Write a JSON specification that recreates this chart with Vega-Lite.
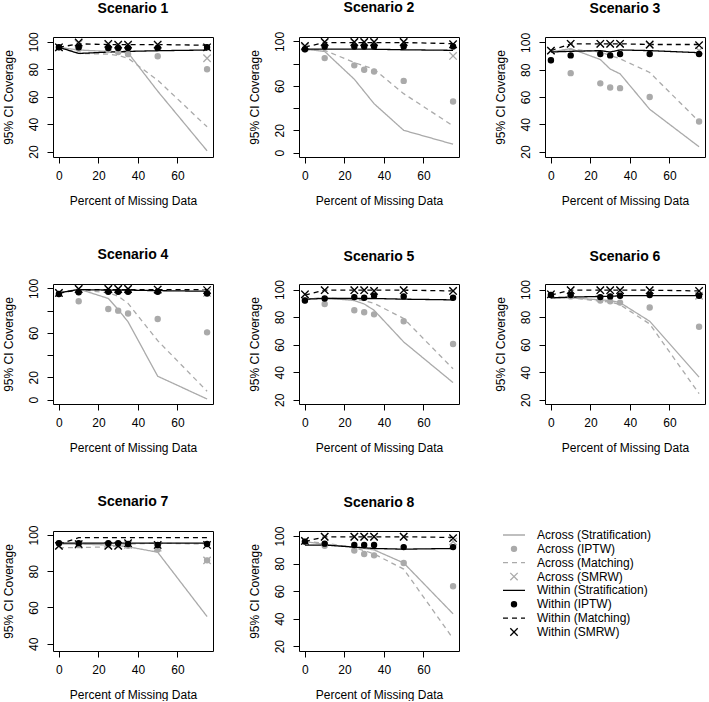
{
  "$schema": "https://vega.github.io/schema/vega-lite/v6.json",
  "padding": {"top": 0, "left": 1, "right": 0, "bottom": 0},
  "columns": 3,
  "spacing": {"column": 33, "row": 40},
  "datasets": {
    "cov": [
      {"s":1,"x":0,"AS":96,"AI":96,"AM":96,"AW":96,"WS":96,"WI":96,"WM":96,"WW":96},
      {"s":1,"x":10,"AS":94,"AI":95,"AM":91.5,"AW":98.5,"WS":91.5,"WI":96,"WM":98.5,"WW":99.5},
      {"s":1,"x":25,"AS":93,"AI":94,"AM":91,"AW":98,"WS":92.5,"WI":95.5,"WM":98,"WW":98.5},
      {"s":1,"x":30,"AS":92.5,"AI":92.5,"AM":90,"AW":97.5,"WS":92.8,"WI":95.5,"WM":98,"WW":98},
      {"s":1,"x":35,"AS":92,"AI":91,"AM":88,"AW":97.5,"WS":93,"WI":95.5,"WM":98,"WW":98},
      {"s":1,"x":50,"AS":64,"AI":89.5,"AM":72,"AW":97.5,"WS":93.5,"WI":95.5,"WM":98,"WW":98},
      {"s":1,"x":75,"AS":20.5,"AI":80,"AM":38,"AW":88,"WS":94,"WI":96,"WM":97.5,"WW":96},
      {"s":2,"x":0,"AS":93,"AI":93,"AM":93,"AW":95,"WS":93,"WI":93,"WM":95,"WW":96},
      {"s":2,"x":10,"AS":91,"AI":85,"AM":92,"AW":99,"WS":93,"WI":95.5,"WM":99,"WW":99.5},
      {"s":2,"x":25,"AS":66,"AI":78.5,"AM":81,"AW":99,"WS":93,"WI":95.5,"WM":99,"WW":99.5},
      {"s":2,"x":30,"AS":55,"AI":74.5,"AM":78,"AW":99,"WS":93,"WI":95.5,"WM":99,"WW":99.5},
      {"s":2,"x":35,"AS":44,"AI":73,"AM":75,"AW":99,"WS":93,"WI":95.5,"WM":99,"WW":99.5},
      {"s":2,"x":50,"AS":20,"AI":64.5,"AM":53,"AW":99,"WS":92.5,"WI":95.5,"WM":99,"WW":99.5},
      {"s":2,"x":75,"AS":7.5,"AI":46,"AM":24,"AW":87,"WS":92,"WI":95.5,"WM":98,"WW":97.5},
      {"s":3,"x":0,"AS":93,"AI":87,"AM":93,"AW":94,"WS":93,"WI":87,"WM":94,"WW":94},
      {"s":3,"x":10,"AS":95.5,"AI":77.5,"AM":95,"AW":99,"WS":93.5,"WI":90.5,"WM":99,"WW":99},
      {"s":3,"x":25,"AS":87.5,"AI":70,"AM":93,"AW":99,"WS":94,"WI":91.5,"WM":99,"WW":99},
      {"s":3,"x":30,"AS":80.5,"AI":67,"AM":90.5,"AW":99,"WS":93,"WI":90.5,"WM":99,"WW":99},
      {"s":3,"x":35,"AS":77,"AI":66.5,"AM":88,"AW":99,"WS":94.5,"WI":91.5,"WM":99,"WW":99},
      {"s":3,"x":50,"AS":51,"AI":60,"AM":78,"AW":98,"WS":94,"WI":91.5,"WM":98.5,"WW":98.5},
      {"s":3,"x":75,"AS":23.5,"AI":42,"AM":42,"AW":94,"WS":92.5,"WI":91.5,"WM":98.5,"WW":98},
      {"s":4,"x":0,"AS":96,"AI":95,"AM":96,"AW":96,"WS":96,"WI":95,"WM":95.5,"WW":96},
      {"s":4,"x":10,"AS":99.5,"AI":88.5,"AM":99,"AW":99.5,"WS":99,"WI":96.5,"WM":99,"WW":99.5},
      {"s":4,"x":25,"AS":91,"AI":81.5,"AM":96,"AW":99.5,"WS":98.5,"WI":97,"WM":99,"WW":99.5},
      {"s":4,"x":30,"AS":81,"AI":80,"AM":93,"AW":99.5,"WS":98.5,"WI":97,"WM":99,"WW":99.5},
      {"s":4,"x":35,"AS":70,"AI":77.5,"AM":86.5,"AW":99.5,"WS":98.5,"WI":97,"WM":99,"WW":99.5},
      {"s":4,"x":50,"AS":21,"AI":72.5,"AM":53,"AW":99,"WS":98,"WI":97,"WM":99,"WW":99},
      {"s":4,"x":75,"AS":0.5,"AI":60.5,"AM":7.5,"AW":96,"WS":97.5,"WI":95.5,"WM":99,"WW":98.5},
      {"s":5,"x":0,"AS":93,"AI":92,"AM":93,"AW":96.5,"WS":93,"WI":92,"WM":96,"WW":96.5},
      {"s":5,"x":10,"AS":94,"AI":89.5,"AM":94,"AW":99.5,"WS":93.5,"WI":93.5,"WM":99.5,"WW":99.5},
      {"s":5,"x":25,"AS":92,"AI":85,"AM":93,"AW":99.5,"WS":93.5,"WI":94.5,"WM":99.5,"WW":99.5},
      {"s":5,"x":30,"AS":89.5,"AI":83.5,"AM":92,"AW":99.5,"WS":93.5,"WI":94,"WM":99.5,"WW":99.5},
      {"s":5,"x":35,"AS":85,"AI":82,"AM":90,"AW":99,"WS":93.5,"WI":95.5,"WM":99.5,"WW":99},
      {"s":5,"x":50,"AS":62,"AI":77,"AM":79,"AW":99.5,"WS":93,"WI":95,"WM":99.5,"WW":99.5},
      {"s":5,"x":75,"AS":32.5,"AI":60.5,"AM":42.5,"AW":99,"WS":92.5,"WI":94,"WM":99,"WW":99},
      {"s":6,"x":0,"AS":94,"AI":96,"AM":94,"AW":96.5,"WS":94,"WI":96,"WM":96,"WW":96.5},
      {"s":6,"x":10,"AS":94,"AI":95,"AM":94,"AW":99.5,"WS":94.5,"WI":96,"WM":99.5,"WW":99.5},
      {"s":6,"x":25,"AS":92.5,"AI":92,"AM":91.5,"AW":99.5,"WS":95,"WI":94.5,"WM":99.5,"WW":99.5},
      {"s":6,"x":30,"AS":92,"AI":91.5,"AM":91,"AW":99.5,"WS":95,"WI":95,"WM":99.5,"WW":99.5},
      {"s":6,"x":35,"AS":90.5,"AI":90.5,"AM":89,"AW":99.5,"WS":95.5,"WI":95.5,"WM":99.5,"WW":99.5},
      {"s":6,"x":50,"AS":77,"AI":87,"AM":75,"AW":99.5,"WS":95.5,"WI":96,"WM":99.5,"WW":99.5},
      {"s":6,"x":75,"AS":36.5,"AI":73,"AM":24.5,"AW":95.5,"WS":95.5,"WI":95.5,"WM":99,"WW":99},
      {"s":7,"x":0,"AS":95,"AI":95.5,"AM":93,"AW":94,"WS":95.5,"WI":95.5,"WM":95,"WW":94},
      {"s":7,"x":10,"AS":95,"AI":95,"AM":93,"AW":94.5,"WS":95.5,"WI":95.5,"WM":98.5,"WW":95},
      {"s":7,"x":25,"AS":94.5,"AI":94.5,"AM":93.5,"AW":94,"WS":95.5,"WI":95.5,"WM":98.5,"WW":94},
      {"s":7,"x":30,"AS":94,"AI":94.5,"AM":94,"AW":94,"WS":95.5,"WI":95.5,"WM":98.5,"WW":94},
      {"s":7,"x":35,"AS":93.5,"AI":94,"AM":95,"AW":94.5,"WS":95.5,"WI":95,"WM":98.5,"WW":95.5},
      {"s":7,"x":50,"AS":90.5,"AI":92,"AM":95.5,"AW":93,"WS":95.5,"WI":94.5,"WM":98.5,"WW":94.5},
      {"s":7,"x":75,"AS":55,"AI":86,"AM":95,"AW":86,"WS":95.5,"WI":95,"WM":98.5,"WW":94.5},
      {"s":8,"x":0,"AS":96,"AI":96,"AM":96,"AW":96.5,"WS":93.5,"WI":96,"WM":96,"WW":96.5},
      {"s":8,"x":10,"AS":94,"AI":93,"AM":95,"AW":99.5,"WS":93.5,"WI":94.5,"WM":99.5,"WW":99.5},
      {"s":8,"x":25,"AS":92,"AI":89.5,"AM":91.5,"AW":99.5,"WS":92,"WI":93.5,"WM":99.5,"WW":99.5},
      {"s":8,"x":30,"AS":91,"AI":87,"AM":89.5,"AW":99.5,"WS":91.5,"WI":93.5,"WM":99.5,"WW":99.5},
      {"s":8,"x":35,"AS":90,"AI":86,"AM":87,"AW":99.5,"WS":91,"WI":93.5,"WM":99.5,"WW":99.5},
      {"s":8,"x":50,"AS":80.5,"AI":80.5,"AM":76,"AW":99.5,"WS":90.5,"WI":92,"WM":99.5,"WW":99.5},
      {"s":8,"x":75,"AS":43.5,"AI":63.5,"AM":25.5,"AW":96,"WS":91,"WI":92,"WM":99,"WW":98.5}
    ],
    "legend": [
      {"series":"AS","label":"Across (Stratification)","i":1},
      {"series":"AI","label":"Across (IPTW)","i":2},
      {"series":"AM","label":"Across (Matching)","i":3},
      {"series":"AW","label":"Across (SMRW)","i":4},
      {"series":"WS","label":"Within (Stratification)","i":5},
      {"series":"WI","label":"Within (IPTW)","i":6},
      {"series":"WM","label":"Within (Matching)","i":7},
      {"series":"WW","label":"Within (SMRW)","i":8}
    ]
  },
  "concat": [
    {"title": "Scenario 1", "width": 160, "height": 120, "data": {"name": "cov"},
     "transform": [{"filter": "datum.s == 1"}, {"fold": ["AS","AI","AM","AW","WS","WI","WM","WW"], "as": ["series","y"]}],
     "encoding": {
       "x": {"field": "x", "type": "quantitative", "scale": {"domain": [-3,78], "nice": false, "zero": false}, "axis": {"values": [0,20,40,60], "title": "Percent of Missing Data"}},
       "y": {"field": "y", "type": "quantitative", "scale": {"domain": [16,103.5], "nice": false, "zero": false}, "axis": {"values": [20,40,60,80,100], "title": "95% CI Coverage"}},
       "color": {"field": "series", "type": "nominal", "scale": {"domain": ["AS","AI","AM","AW","WS","WI","WM","WW"], "range": ["#aaaaaa","#aaaaaa","#aaaaaa","#aaaaaa","#000000","#000000","#000000","#000000"]}, "legend": null}
     },
     "layer": [
       {"transform": [{"filter": {"field": "series", "oneOf": ["AS","AM","WS","WM"]}}], "mark": {"type": "line", "strokeWidth": 1.3}, "encoding": {"strokeDash": {"field": "series", "type": "nominal", "scale": {"domain": ["AS","AM","WS","WM"], "range": [[1,0],[5,4],[1,0],[5,4]]}, "legend": null}}},
       {"transform": [{"filter": {"field": "series", "oneOf": ["AI","AW","WI","WW"]}}], "mark": {"type": "point", "filled": true, "size": 26, "strokeWidth": 1.3, "opacity": 1}, "encoding": {"shape": {"field": "series", "type": "nominal", "scale": {"domain": ["AI","AW","WI","WW"], "range": ["circle","M-1.45,-1.45L1.45,1.45M-1.45,1.45L1.45,-1.45","circle","M-1.45,-1.45L1.45,1.45M-1.45,1.45L1.45,-1.45"]}, "legend": null}, "stroke": {"field": "series", "type": "nominal", "scale": {"domain": ["AS","AI","AM","AW","WS","WI","WM","WW"], "range": ["#aaaaaa","#aaaaaa","#aaaaaa","#aaaaaa","#000000","#000000","#000000","#000000"]}, "legend": null}}}
     ]},
    {"title": "Scenario 2", "width": 160, "height": 120, "data": {"name": "cov"},
     "transform": [{"filter": "datum.s == 2"}, {"fold": ["AS","AI","AM","AW","WS","WI","WM","WW"], "as": ["series","y"]}],
     "encoding": {
       "x": {"field": "x", "type": "quantitative", "scale": {"domain": [-3,78], "nice": false, "zero": false}, "axis": {"values": [0,20,40,60], "title": "Percent of Missing Data"}},
       "y": {"field": "y", "type": "quantitative", "scale": {"domain": [-4,104], "nice": false, "zero": false}, "axis": {"values": [0,20,40,60,80,100], "labelExpr": "datum.value == 40 || datum.value == 80 ? '' : datum.label", "title": "95% CI Coverage"}},
       "color": {"field": "series", "type": "nominal", "scale": {"domain": ["AS","AI","AM","AW","WS","WI","WM","WW"], "range": ["#aaaaaa","#aaaaaa","#aaaaaa","#aaaaaa","#000000","#000000","#000000","#000000"]}, "legend": null}
     },
     "layer": [
       {"transform": [{"filter": {"field": "series", "oneOf": ["AS","AM","WS","WM"]}}], "mark": {"type": "line", "strokeWidth": 1.3}, "encoding": {"strokeDash": {"field": "series", "type": "nominal", "scale": {"domain": ["AS","AM","WS","WM"], "range": [[1,0],[5,4],[1,0],[5,4]]}, "legend": null}}},
       {"transform": [{"filter": {"field": "series", "oneOf": ["AI","AW","WI","WW"]}}], "mark": {"type": "point", "filled": true, "size": 26, "strokeWidth": 1.3, "opacity": 1}, "encoding": {"shape": {"field": "series", "type": "nominal", "scale": {"domain": ["AI","AW","WI","WW"], "range": ["circle","M-1.45,-1.45L1.45,1.45M-1.45,1.45L1.45,-1.45","circle","M-1.45,-1.45L1.45,1.45M-1.45,1.45L1.45,-1.45"]}, "legend": null}, "stroke": {"field": "series", "type": "nominal", "scale": {"domain": ["AS","AI","AM","AW","WS","WI","WM","WW"], "range": ["#aaaaaa","#aaaaaa","#aaaaaa","#aaaaaa","#000000","#000000","#000000","#000000"]}, "legend": null}}}
     ]},
    {"title": "Scenario 3", "width": 160, "height": 120, "data": {"name": "cov"},
     "transform": [{"filter": "datum.s == 3"}, {"fold": ["AS","AI","AM","AW","WS","WI","WM","WW"], "as": ["series","y"]}],
     "encoding": {
       "x": {"field": "x", "type": "quantitative", "scale": {"domain": [-3,78], "nice": false, "zero": false}, "axis": {"values": [0,20,40,60], "title": "Percent of Missing Data"}},
       "y": {"field": "y", "type": "quantitative", "scale": {"domain": [16,104], "nice": false, "zero": false}, "axis": {"values": [20,40,60,80,100], "title": "95% CI Coverage"}},
       "color": {"field": "series", "type": "nominal", "scale": {"domain": ["AS","AI","AM","AW","WS","WI","WM","WW"], "range": ["#aaaaaa","#aaaaaa","#aaaaaa","#aaaaaa","#000000","#000000","#000000","#000000"]}, "legend": null}
     },
     "layer": [
       {"transform": [{"filter": {"field": "series", "oneOf": ["AS","AM","WS","WM"]}}], "mark": {"type": "line", "strokeWidth": 1.3}, "encoding": {"strokeDash": {"field": "series", "type": "nominal", "scale": {"domain": ["AS","AM","WS","WM"], "range": [[1,0],[5,4],[1,0],[5,4]]}, "legend": null}}},
       {"transform": [{"filter": {"field": "series", "oneOf": ["AI","AW","WI","WW"]}}], "mark": {"type": "point", "filled": true, "size": 26, "strokeWidth": 1.3, "opacity": 1}, "encoding": {"shape": {"field": "series", "type": "nominal", "scale": {"domain": ["AI","AW","WI","WW"], "range": ["circle","M-1.45,-1.45L1.45,1.45M-1.45,1.45L1.45,-1.45","circle","M-1.45,-1.45L1.45,1.45M-1.45,1.45L1.45,-1.45"]}, "legend": null}, "stroke": {"field": "series", "type": "nominal", "scale": {"domain": ["AS","AI","AM","AW","WS","WI","WM","WW"], "range": ["#aaaaaa","#aaaaaa","#aaaaaa","#aaaaaa","#000000","#000000","#000000","#000000"]}, "legend": null}}}
     ]},
    {"title": "Scenario 4", "width": 160, "height": 120, "data": {"name": "cov"},
     "transform": [{"filter": "datum.s == 4"}, {"fold": ["AS","AI","AM","AW","WS","WI","WM","WW"], "as": ["series","y"]}],
     "encoding": {
       "x": {"field": "x", "type": "quantitative", "scale": {"domain": [-3,78], "nice": false, "zero": false}, "axis": {"values": [0,20,40,60], "title": "Percent of Missing Data"}},
       "y": {"field": "y", "type": "quantitative", "scale": {"domain": [-4,104], "nice": false, "zero": false}, "axis": {"values": [0,20,40,60,80,100], "labelExpr": "datum.value == 40 || datum.value == 80 ? '' : datum.label", "title": "95% CI Coverage"}},
       "color": {"field": "series", "type": "nominal", "scale": {"domain": ["AS","AI","AM","AW","WS","WI","WM","WW"], "range": ["#aaaaaa","#aaaaaa","#aaaaaa","#aaaaaa","#000000","#000000","#000000","#000000"]}, "legend": null}
     },
     "layer": [
       {"transform": [{"filter": {"field": "series", "oneOf": ["AS","AM","WS","WM"]}}], "mark": {"type": "line", "strokeWidth": 1.3}, "encoding": {"strokeDash": {"field": "series", "type": "nominal", "scale": {"domain": ["AS","AM","WS","WM"], "range": [[1,0],[5,4],[1,0],[5,4]]}, "legend": null}}},
       {"transform": [{"filter": {"field": "series", "oneOf": ["AI","AW","WI","WW"]}}], "mark": {"type": "point", "filled": true, "size": 26, "strokeWidth": 1.3, "opacity": 1}, "encoding": {"shape": {"field": "series", "type": "nominal", "scale": {"domain": ["AI","AW","WI","WW"], "range": ["circle","M-1.45,-1.45L1.45,1.45M-1.45,1.45L1.45,-1.45","circle","M-1.45,-1.45L1.45,1.45M-1.45,1.45L1.45,-1.45"]}, "legend": null}, "stroke": {"field": "series", "type": "nominal", "scale": {"domain": ["AS","AI","AM","AW","WS","WI","WM","WW"], "range": ["#aaaaaa","#aaaaaa","#aaaaaa","#aaaaaa","#000000","#000000","#000000","#000000"]}, "legend": null}}}
     ]},
    {"title": "Scenario 5", "width": 160, "height": 120, "data": {"name": "cov"},
     "transform": [{"filter": "datum.s == 5"}, {"fold": ["AS","AI","AM","AW","WS","WI","WM","WW"], "as": ["series","y"]}],
     "encoding": {
       "x": {"field": "x", "type": "quantitative", "scale": {"domain": [-3,78], "nice": false, "zero": false}, "axis": {"values": [0,20,40,60], "title": "Percent of Missing Data"}},
       "y": {"field": "y", "type": "quantitative", "scale": {"domain": [17,104], "nice": false, "zero": false}, "axis": {"values": [20,40,60,80,100], "title": "95% CI Coverage"}},
       "color": {"field": "series", "type": "nominal", "scale": {"domain": ["AS","AI","AM","AW","WS","WI","WM","WW"], "range": ["#aaaaaa","#aaaaaa","#aaaaaa","#aaaaaa","#000000","#000000","#000000","#000000"]}, "legend": null}
     },
     "layer": [
       {"transform": [{"filter": {"field": "series", "oneOf": ["AS","AM","WS","WM"]}}], "mark": {"type": "line", "strokeWidth": 1.3}, "encoding": {"strokeDash": {"field": "series", "type": "nominal", "scale": {"domain": ["AS","AM","WS","WM"], "range": [[1,0],[5,4],[1,0],[5,4]]}, "legend": null}}},
       {"transform": [{"filter": {"field": "series", "oneOf": ["AI","AW","WI","WW"]}}], "mark": {"type": "point", "filled": true, "size": 26, "strokeWidth": 1.3, "opacity": 1}, "encoding": {"shape": {"field": "series", "type": "nominal", "scale": {"domain": ["AI","AW","WI","WW"], "range": ["circle","M-1.45,-1.45L1.45,1.45M-1.45,1.45L1.45,-1.45","circle","M-1.45,-1.45L1.45,1.45M-1.45,1.45L1.45,-1.45"]}, "legend": null}, "stroke": {"field": "series", "type": "nominal", "scale": {"domain": ["AS","AI","AM","AW","WS","WI","WM","WW"], "range": ["#aaaaaa","#aaaaaa","#aaaaaa","#aaaaaa","#000000","#000000","#000000","#000000"]}, "legend": null}}}
     ]},
    {"title": "Scenario 6", "width": 160, "height": 120, "data": {"name": "cov"},
     "transform": [{"filter": "datum.s == 6"}, {"fold": ["AS","AI","AM","AW","WS","WI","WM","WW"], "as": ["series","y"]}],
     "encoding": {
       "x": {"field": "x", "type": "quantitative", "scale": {"domain": [-3,78], "nice": false, "zero": false}, "axis": {"values": [0,20,40,60], "title": "Percent of Missing Data"}},
       "y": {"field": "y", "type": "quantitative", "scale": {"domain": [17,104], "nice": false, "zero": false}, "axis": {"values": [20,40,60,80,100], "title": "95% CI Coverage"}},
       "color": {"field": "series", "type": "nominal", "scale": {"domain": ["AS","AI","AM","AW","WS","WI","WM","WW"], "range": ["#aaaaaa","#aaaaaa","#aaaaaa","#aaaaaa","#000000","#000000","#000000","#000000"]}, "legend": null}
     },
     "layer": [
       {"transform": [{"filter": {"field": "series", "oneOf": ["AS","AM","WS","WM"]}}], "mark": {"type": "line", "strokeWidth": 1.3}, "encoding": {"strokeDash": {"field": "series", "type": "nominal", "scale": {"domain": ["AS","AM","WS","WM"], "range": [[1,0],[5,4],[1,0],[5,4]]}, "legend": null}}},
       {"transform": [{"filter": {"field": "series", "oneOf": ["AI","AW","WI","WW"]}}], "mark": {"type": "point", "filled": true, "size": 26, "strokeWidth": 1.3, "opacity": 1}, "encoding": {"shape": {"field": "series", "type": "nominal", "scale": {"domain": ["AI","AW","WI","WW"], "range": ["circle","M-1.45,-1.45L1.45,1.45M-1.45,1.45L1.45,-1.45","circle","M-1.45,-1.45L1.45,1.45M-1.45,1.45L1.45,-1.45"]}, "legend": null}, "stroke": {"field": "series", "type": "nominal", "scale": {"domain": ["AS","AI","AM","AW","WS","WI","WM","WW"], "range": ["#aaaaaa","#aaaaaa","#aaaaaa","#aaaaaa","#000000","#000000","#000000","#000000"]}, "legend": null}}}
     ]},
    {"title": "Scenario 7", "width": 160, "height": 120, "data": {"name": "cov"},
     "transform": [{"filter": "datum.s == 7"}, {"fold": ["AS","AI","AM","AW","WS","WI","WM","WW"], "as": ["series","y"]}],
     "encoding": {
       "x": {"field": "x", "type": "quantitative", "scale": {"domain": [-3,78], "nice": false, "zero": false}, "axis": {"values": [0,20,40,60], "title": "Percent of Missing Data"}},
       "y": {"field": "y", "type": "quantitative", "scale": {"domain": [36,102.2], "nice": false, "zero": false}, "axis": {"values": [40,60,80,100], "title": "95% CI Coverage"}},
       "color": {"field": "series", "type": "nominal", "scale": {"domain": ["AS","AI","AM","AW","WS","WI","WM","WW"], "range": ["#aaaaaa","#aaaaaa","#aaaaaa","#aaaaaa","#000000","#000000","#000000","#000000"]}, "legend": null}
     },
     "layer": [
       {"transform": [{"filter": {"field": "series", "oneOf": ["AS","AM","WS","WM"]}}], "mark": {"type": "line", "strokeWidth": 1.3}, "encoding": {"strokeDash": {"field": "series", "type": "nominal", "scale": {"domain": ["AS","AM","WS","WM"], "range": [[1,0],[5,4],[1,0],[5,4]]}, "legend": null}}},
       {"transform": [{"filter": {"field": "series", "oneOf": ["AI","AW","WI","WW"]}}], "mark": {"type": "point", "filled": true, "size": 26, "strokeWidth": 1.3, "opacity": 1}, "encoding": {"shape": {"field": "series", "type": "nominal", "scale": {"domain": ["AI","AW","WI","WW"], "range": ["circle","M-1.45,-1.45L1.45,1.45M-1.45,1.45L1.45,-1.45","circle","M-1.45,-1.45L1.45,1.45M-1.45,1.45L1.45,-1.45"]}, "legend": null}, "stroke": {"field": "series", "type": "nominal", "scale": {"domain": ["AS","AI","AM","AW","WS","WI","WM","WW"], "range": ["#aaaaaa","#aaaaaa","#aaaaaa","#aaaaaa","#000000","#000000","#000000","#000000"]}, "legend": null}}}
     ]},
    {"title": "Scenario 8", "width": 160, "height": 120, "data": {"name": "cov"},
     "transform": [{"filter": "datum.s == 8"}, {"fold": ["AS","AI","AM","AW","WS","WI","WM","WW"], "as": ["series","y"]}],
     "encoding": {
       "x": {"field": "x", "type": "quantitative", "scale": {"domain": [-3,78], "nice": false, "zero": false}, "axis": {"values": [0,20,40,60], "title": "Percent of Missing Data"}},
       "y": {"field": "y", "type": "quantitative", "scale": {"domain": [16.5,103.7], "nice": false, "zero": false}, "axis": {"values": [20,40,60,80,100], "title": "95% CI Coverage"}},
       "color": {"field": "series", "type": "nominal", "scale": {"domain": ["AS","AI","AM","AW","WS","WI","WM","WW"], "range": ["#aaaaaa","#aaaaaa","#aaaaaa","#aaaaaa","#000000","#000000","#000000","#000000"]}, "legend": null}
     },
     "layer": [
       {"transform": [{"filter": {"field": "series", "oneOf": ["AS","AM","WS","WM"]}}], "mark": {"type": "line", "strokeWidth": 1.3}, "encoding": {"strokeDash": {"field": "series", "type": "nominal", "scale": {"domain": ["AS","AM","WS","WM"], "range": [[1,0],[5,4],[1,0],[5,4]]}, "legend": null}}},
       {"transform": [{"filter": {"field": "series", "oneOf": ["AI","AW","WI","WW"]}}], "mark": {"type": "point", "filled": true, "size": 26, "strokeWidth": 1.3, "opacity": 1}, "encoding": {"shape": {"field": "series", "type": "nominal", "scale": {"domain": ["AI","AW","WI","WW"], "range": ["circle","M-1.45,-1.45L1.45,1.45M-1.45,1.45L1.45,-1.45","circle","M-1.45,-1.45L1.45,1.45M-1.45,1.45L1.45,-1.45"]}, "legend": null}, "stroke": {"field": "series", "type": "nominal", "scale": {"domain": ["AS","AI","AM","AW","WS","WI","WM","WW"], "range": ["#aaaaaa","#aaaaaa","#aaaaaa","#aaaaaa","#000000","#000000","#000000","#000000"]}, "legend": null}}}
     ]},
    {"width": 200, "height": 100, "view": {"stroke": null}, "data": {"name": "legend"},
     "encoding": {
       "y": {"field": "i", "type": "quantitative", "scale": {"domain": [0.711, 7.928], "reverse": true, "nice": false, "zero": false}, "axis": null}
     },
     "layer": [
       {"transform": [{"filter": {"field": "series", "oneOf": ["AS","AM","WS","WM"]}}], "mark": {"type": "rule", "strokeWidth": 1.3},
        "encoding": {
          "x": {"datum": -42, "type": "quantitative", "scale": {"domain": [0,200], "nice": false, "zero": false}, "axis": null},
          "x2": {"datum": -20},
          "color": {"field": "series", "type": "nominal", "scale": {"domain": ["AS","AI","AM","AW","WS","WI","WM","WW"], "range": ["#aaaaaa","#aaaaaa","#aaaaaa","#aaaaaa","#000000","#000000","#000000","#000000"]}, "legend": null},
          "strokeDash": {"field": "series", "type": "nominal", "scale": {"domain": ["AS","AM","WS","WM"], "range": [[1,0],[5,4],[1,0],[5,4]]}, "legend": null}
        }},
       {"transform": [{"filter": {"field": "series", "oneOf": ["AI","AW","WI","WW"]}}], "mark": {"type": "point", "filled": true, "size": 26, "strokeWidth": 1.3, "opacity": 1},
        "encoding": {
          "x": {"datum": -31, "type": "quantitative"},
          "color": {"field": "series", "type": "nominal", "scale": {"domain": ["AS","AI","AM","AW","WS","WI","WM","WW"], "range": ["#aaaaaa","#aaaaaa","#aaaaaa","#aaaaaa","#000000","#000000","#000000","#000000"]}, "legend": null},
          "stroke": {"field": "series", "type": "nominal", "scale": {"domain": ["AS","AI","AM","AW","WS","WI","WM","WW"], "range": ["#aaaaaa","#aaaaaa","#aaaaaa","#aaaaaa","#000000","#000000","#000000","#000000"]}, "legend": null},
          "shape": {"field": "series", "type": "nominal", "scale": {"domain": ["AI","AW","WI","WW"], "range": ["circle","M-1.45,-1.45L1.45,1.45M-1.45,1.45L1.45,-1.45","circle","M-1.45,-1.45L1.45,1.45M-1.45,1.45L1.45,-1.45"]}, "legend": null}
        }},
       {"mark": {"type": "text", "align": "left", "baseline": "middle", "fontSize": 12, "font": "Liberation Sans", "color": "black"},
        "encoding": {
          "x": {"datum": -8, "type": "quantitative"},
          "text": {"field": "label"}
        }}
     ]}
  ],
  "config": {
    "font": "Liberation Sans",
    "view": {"stroke": "black", "strokeWidth": 1},
    "axis": {"domain": false, "grid": false, "ticks": true, "tickColor": "black", "tickSize": 6, "tickWidth": 1, "labelFontSize": 12, "labelColor": "black", "labelFont": "Liberation Sans", "titleFont": "Liberation Sans", "titleFontSize": 12, "titleFontWeight": "normal", "titleColor": "black", "labelOverlap": false, "labelFlush": false},
    "axisX": {"labelPadding": 7, "titlePadding": 14, "labelAngle": 0},
    "axisY": {"labelAngle": -90, "labelAlign": "center", "labelBaseline": "alphabetic", "labelPadding": 10, "titlePadding": 12},
    "title": {"fontSize": 14, "fontWeight": "bold", "font": "Liberation Sans", "color": "black", "offset": 16, "frame": "group", "anchor": "middle"}
  }
}
